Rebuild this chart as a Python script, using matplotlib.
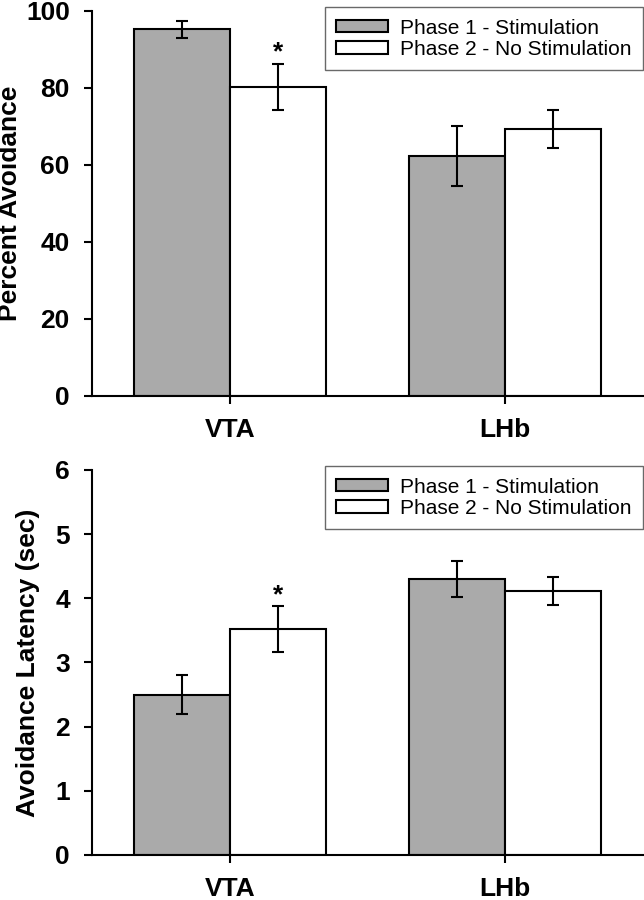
import numpy as np
import matplotlib
matplotlib.use('Agg')
import matplotlib.pyplot as plt

regions = ['VTA', 'LHb']
phases = ['Phase 1 - Stimulation', 'Phase 2 - No Stimulation']

avoid_p1 = [95.2, 62.4]
avoid_p1_err = [2.1, 7.8]
avoid_p2 = [80.3, 69.3]
avoid_p2_err = [6.0, 5.0]

lat_p1 = [2.50, 4.30]
lat_p1_err = [0.30, 0.28]
lat_p2 = [3.52, 4.11]
lat_p2_err = [0.36, 0.22]

plt.rcParams['font.family'] = ['Liberation Sans', 'DejaVu Sans']

fig = plt.figure(figsize=(6.44, 9), dpi=100)
ax1 = fig.add_axes([0.143, 0.56, 0.855, 0.4278])
ax2 = fig.add_axes([0.143, 0.05, 0.855, 0.4278])

x = np.arange(len(regions))
w = 0.348


def draw(ax, p1, e1, p2, e2, ymax, step, ylabel, labx):
    ax.bar(x - w / 2, p1, w, color='#aaaaaa', edgecolor='black', linewidth=1.5,
           label=phases[0], zorder=2)
    ax.bar(x + w / 2, p2, w, color='white', edgecolor='black', linewidth=1.5,
           label=phases[1], zorder=2)
    ax.errorbar(x - w / 2, p1, yerr=e1, fmt='none', ecolor='black',
                elinewidth=1.5, capsize=4.5, capthick=1.5, zorder=3)
    ax.errorbar(x + w / 2, p2, yerr=e2, fmt='none', ecolor='black',
                elinewidth=1.5, capsize=4.5, capthick=1.5, zorder=3)
    # significance marker over VTA phase 2
    ax.annotate('*', (x[0] + w / 2, p2[0] + e2[0]), xytext=(0, 8),
                textcoords='offset points', ha='center', va='center',
                fontsize=19, fontweight='bold')
    ax.set_xlim(-0.5, 1.5)
    ax.set_ylim(0, ymax)
    ax.set_yticks(np.arange(0, ymax + step / 2, step))
    ax.set_xticks(x)
    ax.set_xticklabels(regions)
    for s in ['top', 'right']:
        ax.spines[s].set_visible(False)
    for s in ['left', 'bottom']:
        ax.spines[s].set_linewidth(1.5)
    ax.tick_params(axis='y', length=6, width=1.5, pad=10, labelsize=19)
    ax.tick_params(axis='x', length=6, width=1.5, pad=10, labelsize=19)
    for lab in ax.get_xticklabels() + ax.get_yticklabels():
        lab.set_fontweight('bold')
    ax.set_ylabel(ylabel, fontsize=19, fontweight='bold')
    ax.yaxis.set_label_coords(labx, 0.5)
    leg = ax.legend(loc='upper right', bbox_to_anchor=(1.0, 1.01), fontsize=15,
                    frameon=True, fancybox=False, edgecolor='#444444',
                    handlelength=2.5, handleheight=0.55, labelspacing=0.1,
                    handletextpad=0.55, borderpad=0.55, borderaxespad=0.0)
    leg.get_frame().set_linewidth(1.0)


draw(ax1, avoid_p1, avoid_p1_err, avoid_p2, avoid_p2_err, 100, 20,
     'Percent Avoidance', -0.127)
draw(ax2, lat_p1, lat_p1_err, lat_p2, lat_p2_err, 6, 1,
     'Avoidance Latency (sec)', -0.094)

fig.savefig('out.png', dpi=100)
